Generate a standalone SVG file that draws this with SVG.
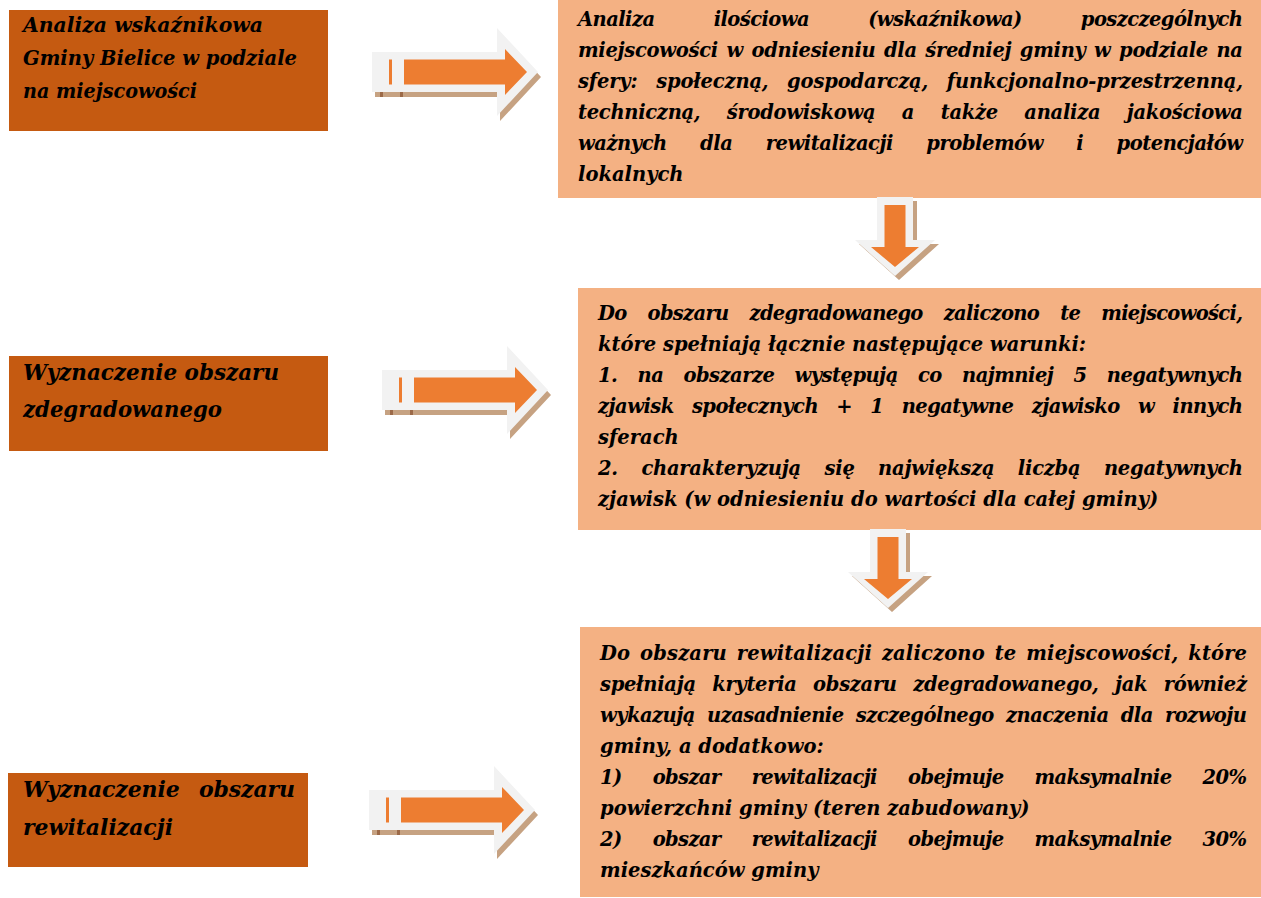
<svg xmlns="http://www.w3.org/2000/svg" width="1261" height="898" viewBox="0 0 1261 898">
<style>
.lbox{fill:#C55A11}
.rbox{fill:#F4B183}
.lt{font-family:"DejaVu Serif","Liberation Serif",serif;font-weight:bold;font-style:italic;fill:#000}
.rt{font-family:"DejaVu Serif","Liberation Serif",serif;font-weight:bold;font-style:italic;font-size:19.5px;fill:#000}
.glow{fill:#F2F2F2}
.shadow{fill:#C6A282}
.tick{fill:#9C6A48}
.core{fill:#ED7D31}
</style>
<defs>
<g id="arrowR">
<path class="shadow" d="M0,-20 H125 V-44 L166,0 L125,44 V20 H0 Z" transform="translate(3,5)"/>
<rect class="tick" x="8" y="20" width="3" height="5"/>
<rect class="tick" x="28" y="20" width="3" height="5"/>
<path class="glow" d="M0,-20 H125 V-44 L166,0 L125,44 V20 H0 Z"/>
<path class="core" d="M32,-12.5 H133 V-23 L155,0 L133,23 V12.5 H32 Z"/>
<rect class="core" x="17" y="-12.5" width="3" height="25"/>
</g>
<g id="arrowD">
<path class="shadow" d="M-18,0 H18 V43 H40 L0,79 L-40,43 H-18 Z" transform="translate(4,4)"/>
<path class="glow" d="M-18,0 H18 V43 H40 L0,79 L-40,43 H-18 Z"/>
<path class="core" d="M-10.5,8 H10.5 V50 H24 L0,70 L-24,50 H-10.5 Z"/>
</g>
</defs>
<rect width="1261" height="898" fill="#FFFFFF"/>

<g id="node-left-1">
<rect class="lbox" x="9" y="10" width="319" height="121"/>
<text class="lt" font-size="21">
<tspan x="23" y="32" textLength="240" lengthAdjust="spacingAndGlyphs">Analiza wskaźnikowa</tspan>
<tspan x="23" y="65" textLength="274" lengthAdjust="spacingAndGlyphs">Gminy Bielice w podziale</tspan>
<tspan x="23" y="98" textLength="174" lengthAdjust="spacingAndGlyphs">na miejscowości</tspan>
</text>
</g>

<g id="node-left-2">
<rect class="lbox" x="9" y="356" width="319" height="95"/>
<text class="lt" font-size="22">
<tspan x="23" y="380" textLength="256" lengthAdjust="spacingAndGlyphs">Wyznaczenie obszaru</tspan>
<tspan x="23" y="417" textLength="199" lengthAdjust="spacingAndGlyphs">zdegradowanego</tspan>
</text>
</g>

<g id="node-left-3">
<rect class="lbox" x="8" y="773" width="300" height="94"/>
<text class="lt" font-size="22">
<tspan x="23" y="797" style="word-spacing:12px" textLength="272" lengthAdjust="spacing">Wyznaczenie obszaru</tspan>
<tspan x="23" y="835" textLength="150" lengthAdjust="spacingAndGlyphs">rewitalizacji</tspan>
</text>
</g>

<g id="node-right-1">
<rect class="rbox" x="558" y="0" width="703" height="198"/>
<text class="rt">
<tspan x="578" y="26" style="word-spacing:53px" textLength="665" lengthAdjust="spacing">Analiza ilościowa (wskaźnikowa) poszczególnych</tspan>
<tspan x="578" y="57" style="word-spacing:2px" textLength="665" lengthAdjust="spacing">miejscowości w odniesieniu dla średniej gminy w podziale na</tspan>
<tspan x="578" y="88" style="word-spacing:12px" textLength="665" lengthAdjust="spacing">sfery: społeczną, gospodarczą, funkcjonalno-przestrzenną,</tspan>
<tspan x="578" y="119" style="word-spacing:20px" textLength="665" lengthAdjust="spacing">techniczną, środowiskową a także analiza jakościowa</tspan>
<tspan x="578" y="150" style="word-spacing:27px" textLength="665" lengthAdjust="spacing">ważnych dla rewitalizacji problemów i potencjałów</tspan>
<tspan x="578" y="181">lokalnych</tspan>
</text>
</g>

<g id="node-right-2">
<rect class="rbox" x="578" y="288" width="683" height="242"/>
<text class="rt">
<tspan x="598" y="320" style="word-spacing:15px" textLength="645" lengthAdjust="spacing">Do obszaru zdegradowanego zaliczono te miejscowości,</tspan>
<tspan x="598" y="351">które spełniają łącznie następujące warunki:</tspan>
<tspan x="598" y="382" style="word-spacing:14px" textLength="645" lengthAdjust="spacing">1. na obszarze występują co najmniej 5 negatywnych</tspan>
<tspan x="598" y="413" style="word-spacing:12px" textLength="645" lengthAdjust="spacing">zjawisk społecznych + 1 negatywne zjawisko w innych</tspan>
<tspan x="598" y="444">sferach</tspan>
<tspan x="598" y="475" style="word-spacing:17px" textLength="645" lengthAdjust="spacing">2. charakteryzują się największą liczbą negatywnych</tspan>
<tspan x="598" y="506">zjawisk (w odniesieniu do wartości dla całej gminy)</tspan>
</text>
</g>

<g id="node-right-3">
<rect class="rbox" x="580" y="627" width="681" height="270"/>
<text class="rt">
<tspan x="600" y="660" style="word-spacing:3px" textLength="647" lengthAdjust="spacing">Do obszaru rewitalizacji zaliczono te miejscowości, które</tspan>
<tspan x="600" y="691" style="word-spacing:10px" textLength="647" lengthAdjust="spacing">spełniają kryteria obszaru zdegradowanego, jak również</tspan>
<tspan x="600" y="722" style="word-spacing:6px" textLength="647" lengthAdjust="spacing">wykazują uzasadnienie szczególnego znaczenia dla rozwoju</tspan>
<tspan x="600" y="753">gminy, a dodatkowo:</tspan>
<tspan x="600" y="784" style="word-spacing:25px" textLength="647" lengthAdjust="spacing">1) obszar rewitalizacji obejmuje maksymalnie 20%</tspan>
<tspan x="600" y="815">powierzchni gminy (teren zabudowany)</tspan>
<tspan x="600" y="846" style="word-spacing:25px" textLength="647" lengthAdjust="spacing">2) obszar rewitalizacji obejmuje maksymalnie 30%</tspan>
<tspan x="600" y="877">mieszkańców gminy</tspan>
</text>
</g>

<g id="connectors">
<use href="#arrowR" transform="translate(372,72)"/>
<use href="#arrowR" transform="translate(382,390)"/>
<use href="#arrowR" transform="translate(369,810)"/>
<use href="#arrowD" transform="translate(895,197)"/>
<use href="#arrowD" transform="translate(888,529)"/>
</g>
</svg>
